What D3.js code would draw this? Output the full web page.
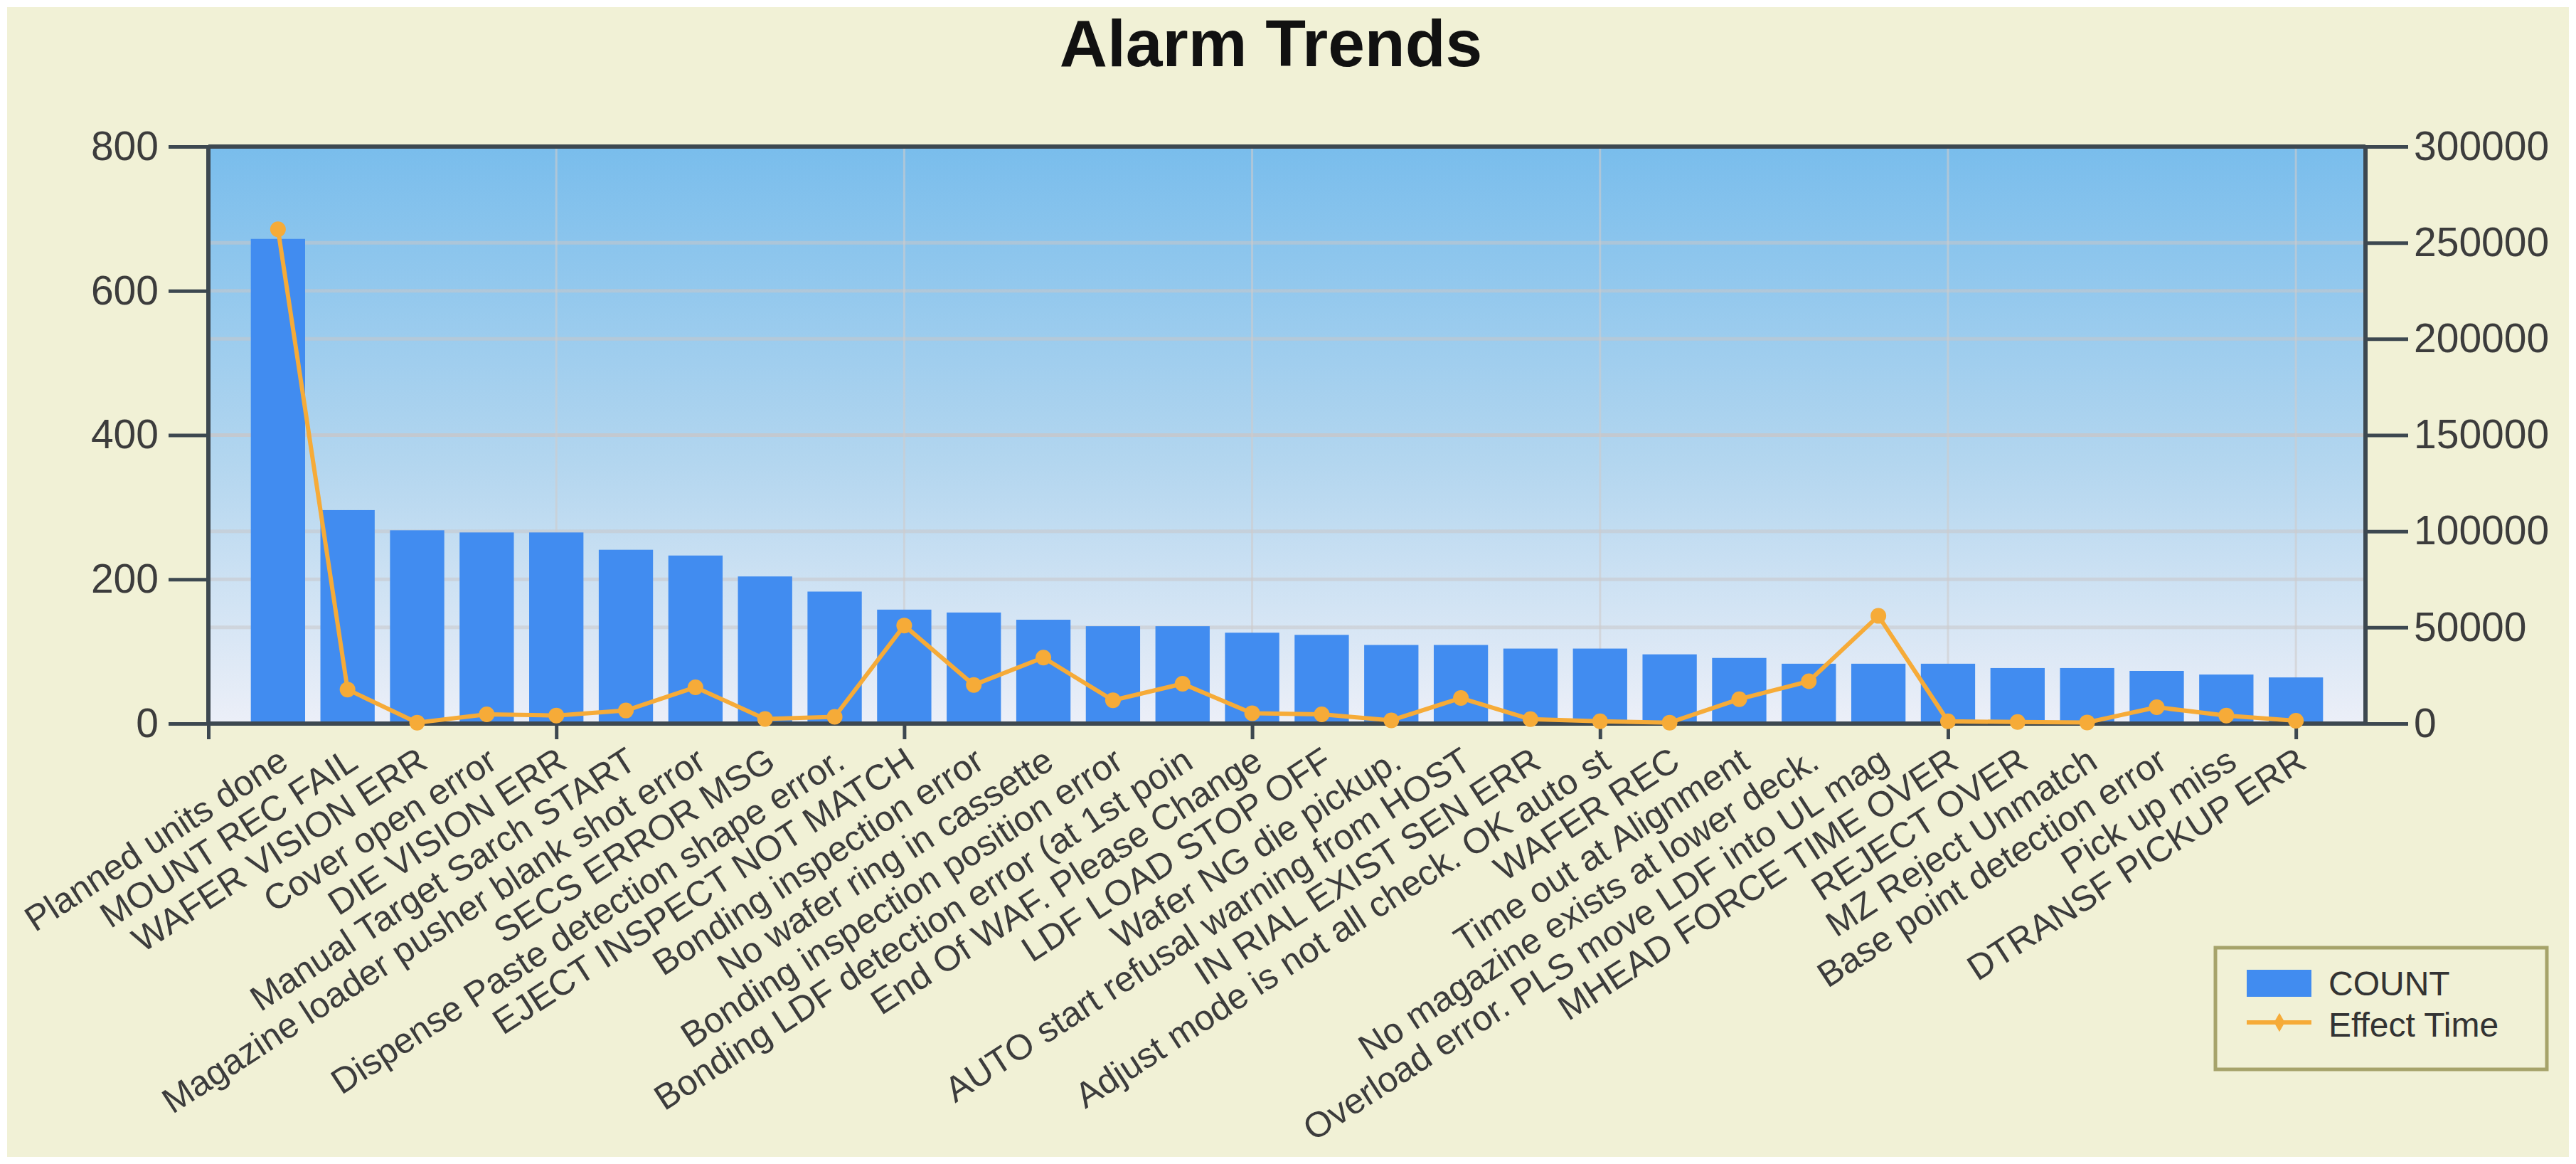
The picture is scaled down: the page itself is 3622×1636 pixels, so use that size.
<!DOCTYPE html>
<html>
<head>
<meta charset="utf-8">
<title>Alarm Trends</title>
<script src="https://d3js.org/d3.v7.min.js"></script>
<style>
  html, body { margin: 0; padding: 0; background: #ffffff; }
  svg { display: block; }
  text { font-family: "Liberation Sans", Arial, sans-serif; }
</style>
</head>
<body>
<div id="chart"></div>
<script>
// alarm names, in chart order
var alarms = [
  "Planned units done", "MOUNT REC FAIL", "WAFER VISION ERR", "Cover open error",
  "DIE VISION ERR", "Manual Target Sarch START", "Magazine loader pusher blank shot error",
  "SECS ERROR MSG", "Dispense Paste detection shape error.", "EJECT INSPECT NOT MATCH",
  "Bonding inspection error", "No wafer ring in cassette", "Bonding inspection position error",
  "Bonding LDF detection error (at 1st poin", "End Of WAF. Please Change", "LDF LOAD STOP OFF",
  "Wafer NG die pickup.", "AUTO start refusal warning from HOST", "IN RIAL EXIST SEN ERR",
  "Adjust mode is not all check. OK auto st", "WAFER REC", "Time out at Alignment",
  "No magazine exists at lower deck.", "Overload error. PLS move LDF into UL mag",
  "MHEAD FORCE TIME OVER", "REJECT OVER", "MZ Reject Unmatch", "Base point detection error",
  "Pick up miss", "DTRANSF PICKUP ERR"
];
// COUNT (left axis)
var counts = [672, 296, 268, 265, 265, 241, 233, 204, 183, 158,
              154, 144, 135, 135, 126, 123, 109, 109, 104, 104,
              96, 91, 83, 83, 83, 77, 77, 73, 68, 64];
// Effect Time (right axis)
var effectTime = [257000, 17700, 500, 4800, 4200, 6800, 18900, 2400, 3500, 51000,
                  20100, 34300, 12100, 20700, 5400, 4800, 1700, 13300, 2300, 1200,
                  500, 12700, 22000, 56000, 1200, 800, 600, 8500, 4200, 1500];
var leftTicks = [0, 200, 400, 600, 800];
var rightTicks = [0, 50000, 100000, 150000, 200000, 250000, 300000];
var xMajorTicks = [0, 5, 10, 15, 20, 25, 30];

var W = 3622, H = 1636;
var plot = { left: 293, right: 3326, top: 206, bottom: 1017 };

var svg = d3.select("#chart").append("svg")
  .attr("width", W).attr("height", H);

var defs = svg.append("defs");
var grad = defs.append("linearGradient")
  .attr("id", "plotBg").attr("x1", 0).attr("y1", 0).attr("x2", 0).attr("y2", 1);
grad.append("stop").attr("offset", "0%").attr("stop-color", "#79bdec");
grad.append("stop").attr("offset", "55%").attr("stop-color", "#b3d6ef");
grad.append("stop").attr("offset", "100%").attr("stop-color", "#eceff8");

// chart background
svg.append("rect").attr("x", 10).attr("y", 10)
  .attr("width", W - 20).attr("height", H - 20)
  .attr("fill", "#f1f1d6");

var x = d3.scaleLinear().domain([0, alarms.length + 1]).range([plot.left, plot.right]);
var yL = d3.scaleLinear().domain([0, 800]).range([plot.bottom, plot.top]);
var yR = d3.scaleLinear().domain([0, 300000]).range([plot.bottom, plot.top]);

// plot area
svg.append("rect")
  .attr("x", plot.left).attr("y", plot.top)
  .attr("width", plot.right - plot.left).attr("height", plot.bottom - plot.top)
  .attr("fill", "url(#plotBg)");

// grid lines, from both y axes and the major x ticks
var grid = svg.append("g");
grid.selectAll("line.gr").data(rightTicks.slice(1, -1)).enter().append("line")
  .attr("x1", plot.left).attr("x2", plot.right)
  .attr("y1", function(d) { return yR(d); }).attr("y2", function(d) { return yR(d); })
  .attr("stroke", "#c8c6c8").attr("stroke-opacity", 0.55).attr("stroke-width", 5);
grid.selectAll("line.gl").data(leftTicks.slice(1, -1)).enter().append("line")
  .attr("x1", plot.left).attr("x2", plot.right)
  .attr("y1", function(d) { return yL(d); }).attr("y2", function(d) { return yL(d); })
  .attr("stroke", "#c8c6c8").attr("stroke-opacity", 0.55).attr("stroke-width", 5);
grid.selectAll("line.gx").data(xMajorTicks.slice(1)).enter().append("line")
  .attr("x1", function(d) { return x(d); }).attr("x2", function(d) { return x(d); })
  .attr("y1", plot.top).attr("y2", plot.bottom)
  .attr("stroke", "#cfcccc").attr("stroke-opacity", 0.6).attr("stroke-width", 3);

// bars
var barW = (x(1) - x(0)) * 0.78;
svg.append("g").selectAll("rect").data(counts).enter().append("rect")
  .attr("x", function(d, i) { return x(i + 1) - barW / 2; })
  .attr("y", function(d) { return yL(d); })
  .attr("width", barW)
  .attr("height", function(d) { return yL(0) - yL(d); })
  .attr("fill", "#418cf0");

// axes
var axisColor = "#3d4850";
var leftAxis = svg.append("g").attr("transform", "translate(" + plot.left + ",0)")
  .call(d3.axisLeft(yL).tickValues(leftTicks).tickSize(56).tickPadding(14));
var rightAxis = svg.append("g").attr("transform", "translate(" + plot.right + ",0)")
  .call(d3.axisRight(yR).tickValues(rightTicks).tickSize(60).tickPadding(8).tickFormat(d3.format("d")));
var bottomAxis = svg.append("g").attr("transform", "translate(0," + plot.bottom + ")")
  .call(d3.axisBottom(x).tickValues(xMajorTicks).tickSize(22).tickFormat(""));

[leftAxis, rightAxis, bottomAxis].forEach(function(a) {
  a.select(".domain").attr("stroke", axisColor).attr("stroke-width", 6);
  a.selectAll(".tick line").attr("stroke", axisColor).attr("stroke-width", 5);
  a.selectAll(".tick text").attr("font-size", 57).attr("fill", "#3c3c3c")
    .attr("font-family", "Liberation Sans, Arial, sans-serif");
});
leftAxis.select(".domain").attr("d", "M0," + plot.top + "V" + plot.bottom);
rightAxis.select(".domain").attr("d", "M0," + plot.top + "V" + plot.bottom);
bottomAxis.select(".domain").attr("d", "M" + plot.left + ",0H" + plot.right);

// top border
svg.append("line")
  .attr("x1", plot.left).attr("x2", plot.right)
  .attr("y1", plot.top).attr("y2", plot.top)
  .attr("stroke", axisColor).attr("stroke-width", 6);

// category labels
svg.append("g").selectAll("text").data(alarms).enter().append("text")
  .attr("transform", function(d, i) {
    return "translate(" + (x(i + 1) + 8) + "," + (plot.bottom + 46) + ") rotate(-33)";
  })
  .attr("text-anchor", "end")
  .attr("dy", "0.35em")
  .attr("font-size", 50)
  .attr("fill", "#3c3c3c")
  .text(function(d) { return d; });

// effect time line
var lineColor = "#f6ab38";
var line = d3.line()
  .x(function(d, i) { return x(i + 1); })
  .y(function(d) { return yR(d); });
svg.append("path").datum(effectTime)
  .attr("d", line)
  .attr("fill", "none")
  .attr("stroke", lineColor)
  .attr("stroke-width", 6)
  .attr("stroke-linejoin", "round");
svg.append("g").selectAll("circle").data(effectTime).enter().append("circle")
  .attr("cx", function(d, i) { return x(i + 1); })
  .attr("cy", function(d) { return yR(d); })
  .attr("r", 11)
  .attr("fill", lineColor);

// title
svg.append("text")
  .attr("x", 1787).attr("y", 93)
  .attr("text-anchor", "middle")
  .attr("font-size", 93)
  .attr("font-weight", "bold")
  .attr("fill", "#111")
  .text("Alarm Trends");

// legend
var legend = svg.append("g");
legend.append("rect")
  .attr("x", 3115).attr("y", 1332).attr("width", 466).attr("height", 171)
  .attr("fill", "#f1f1d6").attr("stroke", "#a6a36a").attr("stroke-width", 5);
legend.append("rect")
  .attr("x", 3159).attr("y", 1363).attr("width", 91).attr("height", 38)
  .attr("fill", "#418cf0");
legend.append("text")
  .attr("x", 3274).attr("y", 1382).attr("dy", "0.35em")
  .attr("font-size", 48).attr("fill", "#333").text("COUNT");
legend.append("line")
  .attr("x1", 3159).attr("x2", 3250).attr("y1", 1437).attr("y2", 1437)
  .attr("stroke", lineColor).attr("stroke-width", 6);
legend.append("path")
  .attr("d", d3.symbol(d3.symbolDiamond, 200)())
  .attr("transform", "translate(3205,1437)")
  .attr("fill", lineColor);
legend.append("text")
  .attr("x", 3274).attr("y", 1440).attr("dy", "0.35em")
  .attr("font-size", 48).attr("fill", "#333").text("Effect Time");
</script>
</body>
</html>
